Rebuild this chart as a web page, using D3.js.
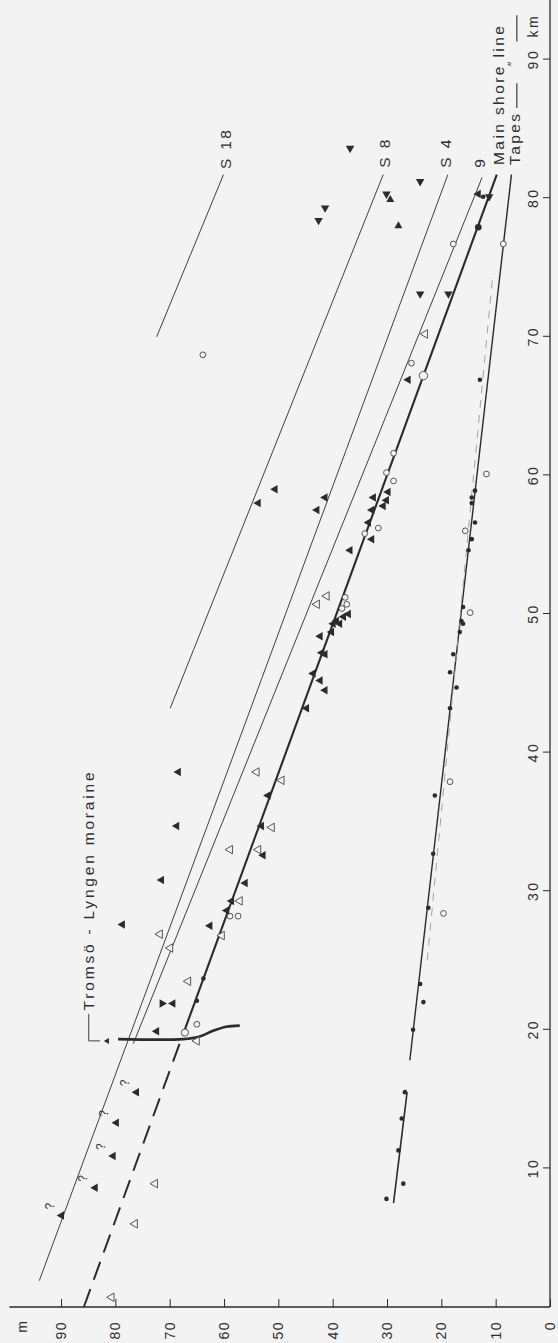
<!DOCTYPE html>
<html>
<head>
<meta charset="utf-8">
<script src="https://cdn.jsdelivr.net/npm/d3@7"></script>
<style>
  html, body { margin: 0; padding: 0; background: #f3f3f3; }
  svg { display: block; }
  text { font-family: "Liberation Sans", Arial, sans-serif; fill: #2e2e2e; }
</style>
</head>
<body>
<script>
// Raised shorelines: elevation (m) against distance along the gradient (km).
// Drawn in landscape orientation, then the whole figure is turned a quarter turn.

const kmTicks = [10, 20, 30, 40, 50, 60, 70, 80, 90];
const mTicks = [0, 10, 20, 30, 40, 50, 60, 70, 80, 90];

// Shorelines as [km, m] vertices
const shoreS18 = [[70.0, 72.4], [81.7, 60.1]];
const shoreS8 = [[43.2, 69.9], [81.7, 30.7]];
const shoreS4 = [[1.9, 94.0], [81.7, 18.8]];
const shore9 = [[19.0, 76.7], [81.5, 12.5]];
const mainShore = [[19.6, 67.6], [81.7, 9.8]];
const mainShoreExtrapolated = [[0, 85.8], [19.3, 67.9]];
const tapes = [[17.8, 25.8], [81.7, 7.1]];
const tapesInner = [[7.5, 28.8], [15.5, 26.3]];
const tapesDitto = [[25.0, 22.6], [74.6, 10.5]];
const moraine = [[19.33, 79.5], [19.33, 67.5], [19.5, 64.6], [19.93, 62.0], [20.22, 59.6], [20.3, 57.1]];

// Line end labels: [text, km, m]
const lineLabels = [["S 18", 82.1, 59.8], ["S 8", 82.2, 30.4], ["S 4", 82.2, 19.3], ["9", 82.2, 12.9],
                    ["Main shore line", 82.4, 9.4]];

// Observations [km, m]
const solidTriangles = [
  [6.6, 89.9], [8.6, 83.7], [10.9, 80.4], [13.3, 79.8], [15.5, 76.1],
  [19.9, 72.4], [21.9, 69.4], [27.5, 62.6], [27.6, 78.7], [30.8, 71.5], [34.7, 68.7], [38.6, 68.4],
  [36.9, 51.9], [34.7, 53.1], [32.6, 52.8], [30.6, 56.1], [29.3, 58.6], [28.6, 59.5],
  [59.0, 50.6], [58.0, 53.7], [58.4, 41.4], [57.5, 42.9], [66.9, 26.1],
  [58.8, 29.8], [58.4, 32.5], [58.2, 30.1], [57.8, 30.7], [57.5, 32.8], [56.6, 33.4], [55.4, 32.8], [54.6, 36.8],
  [50.0, 37.1], [49.8, 38.0], [49.5, 39.3], [49.3, 39.9], [49.3, 38.7], [48.7, 40.2], [48.4, 42.3],
  [47.2, 42.0], [47.1, 41.4], [45.7, 43.6], [45.2, 42.3], [44.5, 41.4], [43.2, 44.8],
  [80.3, 13.2]
];
const queried = [[6.6, 89.9], [8.6, 83.7], [10.9, 80.4], [13.3, 79.8], [15.5, 76.1]];
const invertedTriangles = [[21.9, 71.4]];
const leftTriangles = [[83.6, 36.8], [79.3, 41.4], [78.4, 42.6], [80.3, 30.1], [81.2, 23.9],
                       [73.1, 23.9], [73.1, 18.7], [80.1, 11.2]];
const rightTriangles = [[78.0, 27.9], [79.9, 29.4]];
const openTriangles = [
  [0.7, 80.7], [6.0, 76.4], [8.9, 72.7], [19.2, 65.0], [23.5, 66.6], [26.9, 71.8], [25.9, 69.9],
  [26.8, 60.4], [29.3, 57.1], [33.0, 58.9], [33.0, 53.7], [34.6, 51.2], [38.6, 54.0], [38.0, 49.4],
  [50.7, 42.9], [51.3, 41.1], [70.2, 23.0]
];
const openCircles = [
  [19.8, 67.2], [20.4, 65.0], [28.2, 58.9], [28.2, 57.4], [51.2, 37.7], [50.7, 37.4], [50.4, 38.3],
  [55.8, 34.1], [56.2, 31.6], [61.6, 28.8], [60.2, 30.1], [59.6, 28.8], [68.1, 25.5], [67.2, 23.3],
  [76.7, 17.8], [76.7, 8.6], [68.7, 63.9],
  [60.1, 11.7], [56.0, 15.6], [50.1, 14.7], [37.9, 18.4], [28.4, 19.6]
];
const solidDots = [
  [77.9, 13.2], [22.1, 65.0], [23.7, 63.8], [80.1, 12.3],
  [66.9, 12.9], [58.9, 13.8], [58.4, 14.4], [58.0, 14.4], [56.6, 13.8], [55.4, 14.4], [54.6, 15.0],
  [50.5, 16.0], [49.5, 16.3], [49.3, 16.0], [48.7, 16.6], [47.1, 17.8], [45.8, 18.4], [44.7, 17.2],
  [43.2, 18.4], [36.9, 21.2], [32.7, 21.5], [28.8, 22.4], [23.3, 23.9], [22.0, 23.3], [20.0, 25.2],
  [15.5, 26.7], [13.6, 27.3], [11.3, 27.9], [8.9, 27.0], [7.8, 30.1]
];
const moraineLabel = { text: "Tromsö - Lyngen moraine", km: 21.4, m: 84.9 };
const moraineMark = [19.2, 81.5];

const W = 558, H = 1343;
const ink = "#2b2b2b";

const svg = d3.select("body").append("svg").attr("width", W).attr("height", H);
svg.append("rect").attr("width", W).attr("height", H).attr("fill", "#f3f3f3");

// landscape frame: u to the right = km, v downward = -m
const g = svg.append("g").attr("transform", `translate(0,${H}) rotate(-90)`);

const x = d3.scaleLinear().domain([0, 90]).range([36, 36 + 13.86 * 90]);
const y = d3.scaleLinear().domain([0, 90]).range([550, 550 - 5.433 * 90]);
const line = d3.line().x(d => x(d[0])).y(d => y(d[1]));

// axes
const xAxis = g.append("g").attr("transform", `translate(0,${y(0)})`)
  .call(d3.axisTop(x).tickValues(kmTicks).tickSize(7).tickSizeOuter(0).tickPadding(5).tickFormat(d3.format("d")));
xAxis.select(".domain").remove();
xAxis.selectAll(".tick line").attr("stroke", ink).attr("stroke-width", 1);
xAxis.selectAll(".tick text").attr("font-size", 14).attr("letter-spacing", 2.5).attr("fill", "#2e2e2e");
g.append("line").attr("x1", x(0)).attr("x2", x(94.5)).attr("y1", y(0)).attr("y2", y(0))
  .attr("stroke", ink).attr("stroke-width", 1.3);
g.append("text").attr("x", x(90) + 22).attr("y", y(0) - 12).attr("font-size", 14).attr("letter-spacing", 2.5)
  .text("km");

const yAxis = g.append("g").attr("transform", `translate(${x(0)},0)`)
  .call(d3.axisLeft(y).tickValues(mTicks).tickSize(-8).tickSizeOuter(0).tickPadding(14).tickFormat(d3.format("d")));
yAxis.select(".domain").remove();
yAxis.selectAll(".tick line").attr("stroke", ink).attr("stroke-width", 1);
yAxis.selectAll(".tick text").attr("font-size", 14).attr("letter-spacing", 1.5).attr("fill", "#2e2e2e");
g.append("line").attr("x1", x(0)).attr("x2", x(0)).attr("y1", y(0)).attr("y2", y(99.5))
  .attr("stroke", ink).attr("stroke-width", 1.3);
g.append("text").attr("x", x(0) - 14).attr("y", y(97)).attr("dy", "0.32em").attr("text-anchor", "end")
  .attr("font-size", 14).text("m");

// shorelines
function drawLine(pts, width, extra) {
  const p = g.append("path").attr("d", line(pts)).attr("fill", "none")
    .attr("stroke", ink).attr("stroke-width", width).attr("stroke-linecap", "butt");
  if (extra) extra(p);
  return p;
}
drawLine(shoreS18, 0.9);
drawLine(shoreS8, 0.9);
drawLine(shoreS4, 0.9);
drawLine(shore9, 0.9);
drawLine(mainShore, 2.1);
drawLine(mainShoreExtrapolated, 2.0, p => p.attr("stroke-dasharray", "19 10"));
drawLine(tapes, 1.4);
drawLine(tapesInner, 1.6);
drawLine(tapesDitto, 0.9, p => p.attr("stroke", "#9a9a9a").attr("stroke-dasharray", "8 7"));

g.append("path").attr("d", d3.line().x(d => x(d[0])).y(d => y(d[1])).curve(d3.curveCatmullRom.alpha(0.5))(moraine))
  .attr("fill", "none").attr("stroke", ink).attr("stroke-width", 2.6);

// moraine label with leader
g.append("path")
  .attr("d", `M${x(19.2)},${y(82.8)}V${y(moraineLabel.m)}H${x(moraineLabel.km - 0.25)}`)
  .attr("fill", "none").attr("stroke", ink).attr("stroke-width", 0.9);
g.append("text").attr("x", x(moraineLabel.km)).attr("y", y(moraineLabel.m)).attr("dy", "0.35em")
  .attr("font-size", 15.5).attr("letter-spacing", 2.8).text(moraineLabel.text);

// line labels
g.selectAll(".lbl").data(lineLabels).join("text")
  .attr("x", d => x(d[1])).attr("y", d => y(d[2])).attr("dy", "0.35em")
  .attr("font-size", 15.5).attr("letter-spacing", 2.4).text(d => d[0]);

// Tapes legend line
const tapesKey = g.append("g");
tapesKey.append("text").attr("x", x(82.4)).attr("y", y(6.5)).attr("dy", "0.35em")
  .attr("font-size", 15.5).attr("letter-spacing", 2.4).text("Tapes");
tapesKey.append("line").attr("x1", x(86.5)).attr("x2", x(88.3)).attr("y1", y(6.1)).attr("y2", y(6.1))
  .attr("stroke", ink).attr("stroke-width", 1.1);
tapesKey.append("text").attr("x", x(89.7)).attr("y", y(6.9)).attr("dy", "0.35em").attr("text-anchor", "middle")
  .attr("font-size", 12).text("\u2033");
tapesKey.append("line").attr("x1", x(91.3)).attr("x2", x(93.2)).attr("y1", y(6.1)).attr("y2", y(6.1))
  .attr("stroke", ink).attr("stroke-width", 1.1);

// markers
function triPath(s) {
  const h = s * Math.sqrt(3) / 2;
  return `M0,${-2 * h / 3}L${s / 2},${h / 3}L${-s / 2},${h / 3}Z`;
}
function place(rot) { return d => `translate(${x(d[0])},${y(d[1])})${rot ? ` rotate(${rot})` : ""}`; }

g.selectAll(".otri").data(openTriangles).join("path")
  .attr("d", triPath(8.5)).attr("transform", place(0))
  .attr("fill", "#f3f3f3").attr("stroke", "#444").attr("stroke-width", 0.9);
g.selectAll(".ocirc").data(openCircles).join("circle")
  .attr("cx", d => x(d[0])).attr("cy", d => y(d[1]))
  .attr("r", (d, i) => (i === 13 ? 4.2 : i === 0 ? 3.6 : 2.9))
  .attr("fill", "#f3f3f3").attr("stroke", "#444").attr("stroke-width", 0.9);
g.selectAll(".stri").data(solidTriangles).join("path")
  .attr("d", triPath(8.5)).attr("transform", place(0)).attr("fill", ink);
g.selectAll(".dtri").data(invertedTriangles).join("path")
  .attr("d", triPath(8.5)).attr("transform", place(180)).attr("fill", ink);
g.selectAll(".ltri").data(leftTriangles).join("path")
  .attr("d", triPath(8.5)).attr("transform", place(-90)).attr("fill", ink);
g.selectAll(".rtri").data(rightTriangles).join("path")
  .attr("d", triPath(8)).attr("transform", place(90)).attr("fill", ink);
g.selectAll(".dot").data(solidDots).join("circle")
  .attr("cx", d => x(d[0])).attr("cy", d => y(d[1]))
  .attr("r", (d, i) => (i === 0 ? 3.3 : 2.3)).attr("fill", ink);
g.append("path").attr("d", triPath(6)).attr("transform", place(0)(moraineMark)).attr("fill", ink);

// query marks on uncertain observations
g.selectAll(".q").data(queried).join("text")
  .attr("x", d => x(d[0]) + 6).attr("y", d => y(d[1]) - 8)
  .attr("font-size", 12).text("?");
</script>
</body>
</html>
